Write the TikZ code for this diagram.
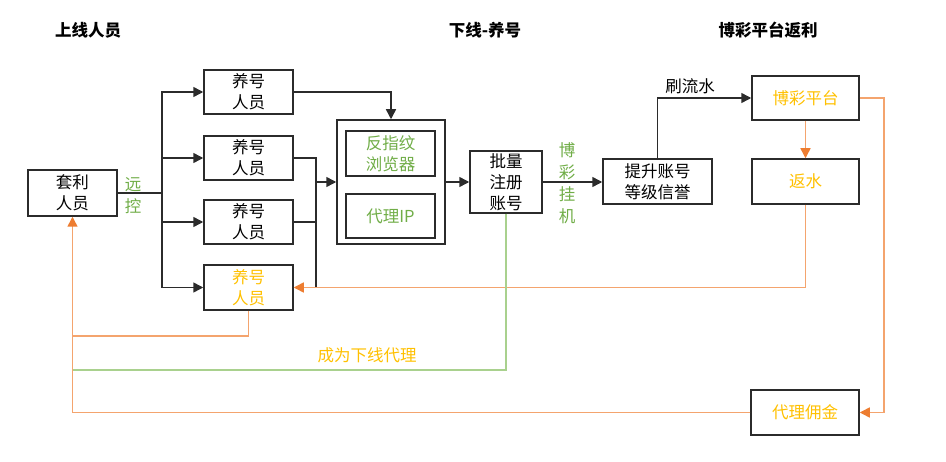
\documentclass[tikz,border=0pt]{standalone}
\usepackage{fontspec}
\setmainfont{Noto Sans CJK SC}
\usetikzlibrary{arrows.meta}
\definecolor{boxline}{HTML}{2B2B2B}
\definecolor{otext}{HTML}{FFC000}
\definecolor{gtext}{HTML}{70AD47}
\definecolor{oline}{HTML}{F4A46E}
\definecolor{ohead}{HTML}{ED7D31}
\definecolor{gline}{HTML}{A9D18E}
\tikzset{
  stepbox/.style={draw=boxline, line width=1.5pt, inner sep=0pt, align=center,
    font=\fontsize{16.5}{21}\selectfont, text=black},
  conn/.style={draw=boxline, line width=1.5pt, -{Triangle[length=10pt,width=10pt]}},
  plain/.style={draw=boxline, line width=1.5pt},
  oconn/.style={draw=oline, line width=1.5pt, -{Triangle[length=10pt,width=10pt,color=ohead]}},
  oplain/.style={draw=oline, line width=1.5pt},
  gplain/.style={draw=gline, line width=1.5pt},
  title/.style={font=\fontsize{16.5}{20}\selectfont\bfseries, text=black},
  glabel/.style={text=gtext, align=center, font=\fontsize{16.5}{22}\selectfont, inner sep=0pt},
}
\begin{document}
\begin{tikzpicture}[x=1pt,y=-1pt]
\useasboundingbox (0,0) rectangle (946,462);
% titles
\node[title] (t1) at (88,30) {上线人员};
\node[title] (t2) at (485,30) {下线-养号};
\node[title] (t3) at (768,30) {博彩平台返利};
% nodes
\node[stepbox, minimum width=89pt, minimum height=46pt] (taoli) at (72.5,193) {套利\\人员};
\node[stepbox, minimum width=89pt, minimum height=44pt] (y1) at (248.5,92) {养号\\人员};
\node[stepbox, minimum width=89pt, minimum height=44pt] (y2) at (248.5,158) {养号\\人员};
\node[stepbox, minimum width=89pt, minimum height=44pt] (y3) at (248.5,222) {养号\\人员};
\node[stepbox, minimum width=89pt, minimum height=45pt, text=otext] (y4) at (248.5,287.5) {养号\\人员};
\node[stepbox, minimum width=108pt, minimum height=124pt] (cont) at (391,182) {};
\node[stepbox, minimum width=89pt, minimum height=45pt, text=gtext] (fzw) at (390.5,153.5) {反指纹\\浏览器};
\node[stepbox, minimum width=89pt, minimum height=44pt, text=gtext] (dlip) at (390.5,216) {代理IP};
\node[stepbox, minimum width=72pt, minimum height=62pt] (plzc) at (506,182) {批量\\注册\\账号};
\node[stepbox, minimum width=109pt, minimum height=45pt] (ts) at (657.5,181.5) {提升账号\\等级信誉};
\node[stepbox, minimum width=107pt, minimum height=44pt, text=otext] (bcpt) at (805.5,98) {博彩平台};
\node[stepbox, minimum width=107pt, minimum height=45pt, text=otext] (fs) at (805.5,181.5) {返水};
\node[stepbox, minimum width=108pt, minimum height=45pt, text=otext] (yj) at (805,412.5) {代理佣金};
% labels
\node[glabel] (yk) at (133,196) {远\\控};
\node[glabel] (bcgj) at (567,183) {博\\彩\\挂\\机};
\node[font=\fontsize{16.5}{20}\selectfont, text=black, inner sep=0pt] (slsh) at (690,86) {刷流水};
\node[font=\fontsize{16.5}{20}\selectfont, text=otext, inner sep=0pt] (cwxx) at (367,355) {成为下线代理};
% coordinates
\coordinate (m) at (316,182);
\coordinate (mb) at (316,287.5);
\coordinate (c1) at (72.5,336);
\coordinate (c2) at (72.5,370);
% black connectors
\draw[plain] (taoli.east) -- ++(44,0) coordinate (tr);
\draw[conn] (tr) |- (y1.west);
\draw[conn] (tr) |- (y2.west);
\draw[conn] (tr) |- (y3.west);
\draw[conn] (tr) |- (y4.west);
\draw[conn] (y1.east) -| (cont.north);
\draw[plain] (y2.east) -| (mb);
\draw[plain] (y3.east) -- (y3.east -| m);
\draw[conn] (m) -- (cont.west);
\draw[conn] (cont.east) -- (plzc.west);
\draw[conn] (plzc.east) -- (plzc.east -| ts.west);
\draw[conn] (ts.north) |- (bcpt.west);
% orange connectors
\draw[oconn] (bcpt.south) -- (fs.north);
\draw[oconn] (fs.south) |- (y4.east);
\draw[oconn] (bcpt.east) -- ++(24,0) |- (yj.east);
\draw[oconn] (yj.west) -| (taoli.south);
\draw[oplain] (y4.south) |- (c1);
% green connector
\draw[gplain] (plzc.south) |- (c2);
\end{tikzpicture}
\end{document}
